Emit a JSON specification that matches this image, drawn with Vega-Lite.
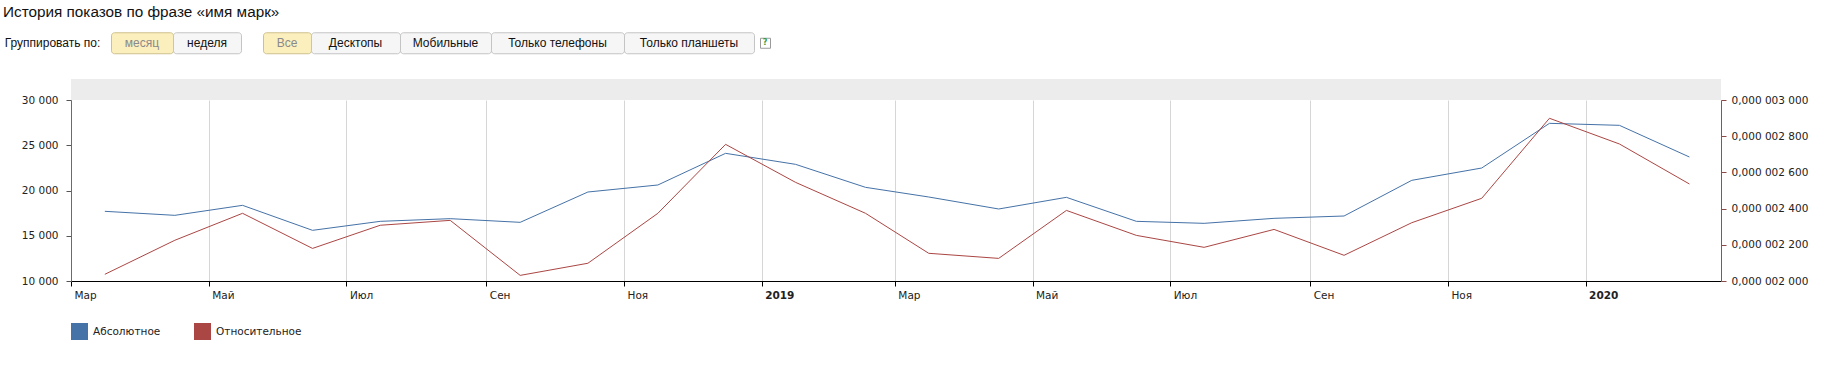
{
  "$schema": "https://vega.github.io/schema/vega-lite/v6.json",
  "background": "white",
  "padding": {"left": 3, "top": 5, "right": 5, "bottom": 5},
  "title": {"text": "История показов по фразе «имя марк»", "anchor": "start", "frame": "bounds", "font": "Liberation Sans", "fontSize": 15.3, "fontWeight": "normal", "color": "#111", "offset": 11},
  "config": {
    "view": {"stroke": null},
    "axis": {"labelFont": "DejaVu Sans", "labelFontSize": 10.5, "labelColor": "#222", "domainWidth": 1, "tickWidth": 1}
  },
  "spacing": 19,
  "resolve": {"scale": {"color": "independent"}, "legend": {"color": "independent"}},
  "vconcat": [
    {
      "hconcat": [
        {
          "hconcat": [
            {
              "hconcat": [
                {"width": 99, "height": 21, "data": {"values": [{}]}, "mark": {"type": "text", "text": "Группировать по:", "font": "Liberation Sans", "fontSize": 12, "fill": "#111"}, "encoding": {}},
                {
                  "hconcat": [
                    {"width": 62, "height": 21, "data": {"values": [{}]}, "mark": {"type": "text", "text": "месяц", "font": "Liberation Sans", "fontSize": 12, "fill": "#8a8a8a"}, "encoding": {}, "view": {"fill": "#fcefbe", "stroke": "#cfc08c", "cornerRadius": 3}},
                    {"width": 68, "height": 21, "data": {"values": [{}]}, "mark": {"type": "text", "text": "неделя", "font": "Liberation Sans", "fontSize": 12, "fill": "#111"}, "encoding": {}, "view": {"fill": "#f6f6f6", "stroke": "#c4c4c4", "cornerRadius": 3}}
                  ],
                  "spacing": 0,
                  "bounds": "flush"
                }
              ],
              "spacing": 8
            },
            {
              "hconcat": [
                {"width": 48, "height": 21, "data": {"values": [{}]}, "mark": {"type": "text", "text": "Все", "font": "Liberation Sans", "fontSize": 12, "fill": "#8a8a8a"}, "encoding": {}, "view": {"fill": "#fcefbe", "stroke": "#cfc08c", "cornerRadius": 3}},
                {"width": 89, "height": 21, "data": {"values": [{}]}, "mark": {"type": "text", "text": "Десктопы", "font": "Liberation Sans", "fontSize": 12, "fill": "#111"}, "encoding": {}, "view": {"fill": "#f6f6f6", "stroke": "#c4c4c4", "cornerRadius": 3}},
                {"width": 91, "height": 21, "data": {"values": [{}]}, "mark": {"type": "text", "text": "Мобильные", "font": "Liberation Sans", "fontSize": 12, "fill": "#111"}, "encoding": {}, "view": {"fill": "#f6f6f6", "stroke": "#c4c4c4", "cornerRadius": 3}},
                {"width": 133, "height": 21, "data": {"values": [{}]}, "mark": {"type": "text", "text": "Только телефоны", "font": "Liberation Sans", "fontSize": 12, "fill": "#111"}, "encoding": {}, "view": {"fill": "#f6f6f6", "stroke": "#c4c4c4", "cornerRadius": 3}},
                {"width": 130, "height": 21, "data": {"values": [{}]}, "mark": {"type": "text", "text": "Только планшеты", "font": "Liberation Sans", "fontSize": 12, "fill": "#111"}, "encoding": {}, "view": {"fill": "#f6f6f6", "stroke": "#c4c4c4", "cornerRadius": 3}}
              ],
              "spacing": 0,
              "bounds": "flush"
            }
          ],
          "spacing": 20
        },
        {"width": 10, "height": 10, "data": {"values": [{}]}, "mark": {"type": "text", "text": "?", "font": "DejaVu Sans", "fontSize": 8, "fontWeight": "bold", "fill": "#3b9a3b"}, "encoding": {}, "view": {"fill": "#ffffff", "stroke": "#9a9a9a"}}
      ],
      "spacing": 4,
      "center": true
    },
    {
      "hconcat": [
        {"width": 1, "height": 1, "data": {"values": [{}]}, "mark": {"type": "text", "text": ""}, "encoding": {}},
        {
          "vconcat": [
            {"width": 1650, "height": 21, "data": {"values": [{}]}, "mark": {"type": "text", "text": ""}, "encoding": {}, "view": {"fill": "#ececec", "stroke": null}},
            {
              "width": 1650,
              "height": 181,
              "data": {"values": [
                {"date": "2018-03-16", "abs": 17700, "rel": 0.000002037},
                {"date": "2018-04-16", "abs": 17256, "rel": 0.000002225},
                {"date": "2018-05-16", "abs": 18361, "rel": 0.000002374},
                {"date": "2018-06-16", "abs": 15599, "rel": 0.000002180},
                {"date": "2018-07-16", "abs": 16593, "rel": 0.000002308},
                {"date": "2018-08-16", "abs": 16888, "rel": 0.000002335},
                {"date": "2018-09-16", "abs": 16483, "rel": 0.000002031},
                {"date": "2018-10-16", "abs": 19834, "rel": 0.000002098},
                {"date": "2018-11-16", "abs": 20608, "rel": 0.000002374},
                {"date": "2018-12-16", "abs": 24107, "rel": 0.000002755},
                {"date": "2019-01-16", "abs": 22891, "rel": 0.000002545},
                {"date": "2019-02-16", "abs": 20350, "rel": 0.000002374},
                {"date": "2019-03-16", "abs": 19282, "rel": 0.000002153},
                {"date": "2019-04-16", "abs": 17956, "rel": 0.000002125},
                {"date": "2019-05-16", "abs": 19245, "rel": 0.000002390},
                {"date": "2019-06-16", "abs": 16593, "rel": 0.000002252},
                {"date": "2019-07-16", "abs": 16372, "rel": 0.000002186},
                {"date": "2019-08-16", "abs": 16924, "rel": 0.000002285},
                {"date": "2019-09-16", "abs": 17182, "rel": 0.000002142},
                {"date": "2019-10-16", "abs": 21123, "rel": 0.000002322},
                {"date": "2019-11-16", "abs": 22486, "rel": 0.000002457},
                {"date": "2019-12-16", "abs": 27422, "rel": 0.000002899},
                {"date": "2020-01-16", "abs": 27201, "rel": 0.000002757},
                {"date": "2020-02-16", "abs": 23702, "rel": 0.000002536}
              ]},
              "encoding": {
                "x": {
                  "field": "date", "type": "temporal",
                  "scale": {"type": "utc", "domain": [{"year": 2018, "month": 3, "date": 1, "utc": true}, {"year": 2020, "month": 3, "date": 1, "utc": true}]},
                  "axis": {
                    "title": null,
                    "values": [
                      {"year": 2018, "month": 3, "date": 1, "utc": true},
                      {"year": 2018, "month": 5, "date": 1, "utc": true},
                      {"year": 2018, "month": 7, "date": 1, "utc": true},
                      {"year": 2018, "month": 9, "date": 1, "utc": true},
                      {"year": 2018, "month": 11, "date": 1, "utc": true},
                      {"year": 2019, "month": 1, "date": 1, "utc": true},
                      {"year": 2019, "month": 3, "date": 1, "utc": true},
                      {"year": 2019, "month": 5, "date": 1, "utc": true},
                      {"year": 2019, "month": 7, "date": 1, "utc": true},
                      {"year": 2019, "month": 9, "date": 1, "utc": true},
                      {"year": 2019, "month": 11, "date": 1, "utc": true},
                      {"year": 2020, "month": 1, "date": 1, "utc": true}
                    ],
                    "labelExpr": "utcmonth(datum.value) == 0 ? utcFormat(datum.value, '%Y') : ['Янв','Фев','Мар','Апр','Май','Июн','Июл','Авг','Сен','Окт','Ноя','Дек'][utcmonth(datum.value)]",
                    "labelFontWeight": {"condition": {"test": "utcmonth(datum.value) == 0", "value": "bold"}, "value": "normal"},
                    "labelAlign": "left",
                    "labelOffset": 3,
                    "labelPadding": 4,
                    "labelFlush": false,
                    "labelOverlap": false,
                    "labelBound": false,
                    "grid": true,
                    "gridColor": "#d6d6d6",
                    "domainColor": "#000000",
                    "tickColor": "#000000",
                    "tickSize": 5
                  }
                }
              },
              "layer": [
                {
                  "mark": {"type": "line", "strokeWidth": 1, "interpolate": "linear"},
                  "encoding": {
                    "y": {
                      "field": "abs", "type": "quantitative",
                      "scale": {"domain": [10000, 30000], "nice": false, "zero": false},
                      "axis": {"orient": "left", "title": null, "grid": false, "values": [10000, 15000, 20000, 25000, 30000],
                        "labelExpr": "replace(format(datum.value, ','), ',', ' ')",
                        "domainColor": "#4572A7", "tickColor": "#555555", "tickSize": 5, "labelPadding": 8,
                        "minExtent": 66.5, "maxExtent": 66.5}
                    },
                    "color": {
                      "datum": "Абсолютное",
                      "scale": {"domain": ["Абсолютное", "Относительное"], "range": ["#4572A7", "#AA4643"]},
                      "legend": {
                        "title": null, "orient": "bottom", "direction": "horizontal",
                        "symbolType": "square", "symbolSize": 289, "symbolStrokeWidth": 0,
                        "labelFont": "DejaVu Sans", "labelFontSize": 10.5, "labelColor": "#222",
                        "labelOffset": 5, "columnPadding": 33, "offset": 22, "padding": 0,
                        "encode": {"symbols": {"update": {"fill": {"signal": "datum.value === 'Абсолютное' ? '#4572A7' : '#AA4643'"}, "stroke": {"value": "transparent"}}}}
                      }
                    }
                  }
                },
                {
                  "mark": {"type": "line", "strokeWidth": 1, "interpolate": "linear"},
                  "encoding": {
                    "y": {
                      "field": "rel", "type": "quantitative",
                      "scale": {"domain": [0.000002, 0.000003], "nice": false, "zero": false},
                      "axis": {"orient": "right", "title": null, "grid": false,
                        "values": [0.000002, 0.0000022, 0.0000024, 0.0000026, 0.0000028, 0.000003],
                        "labelExpr": "'0,000 00' + replace(format(datum.value * 1000000, '.3f'), '.', ' ')",
                        "domainColor": "#AA4643", "tickColor": "#8a4a48", "tickSize": 5, "labelPadding": 5}
                    },
                    "color": {"datum": "Относительное"}
                  }
                }
              ],
              "resolve": {"scale": {"y": "independent"}}
            }
          ],
          "spacing": 0,
          "bounds": "flush",
          "resolve": {"scale": {"color": "independent"}, "legend": {"color": "independent"}}
        }
      ],
      "spacing": 0,
      "resolve": {"scale": {"color": "independent"}, "legend": {"color": "independent"}}
    }
  ]
}
